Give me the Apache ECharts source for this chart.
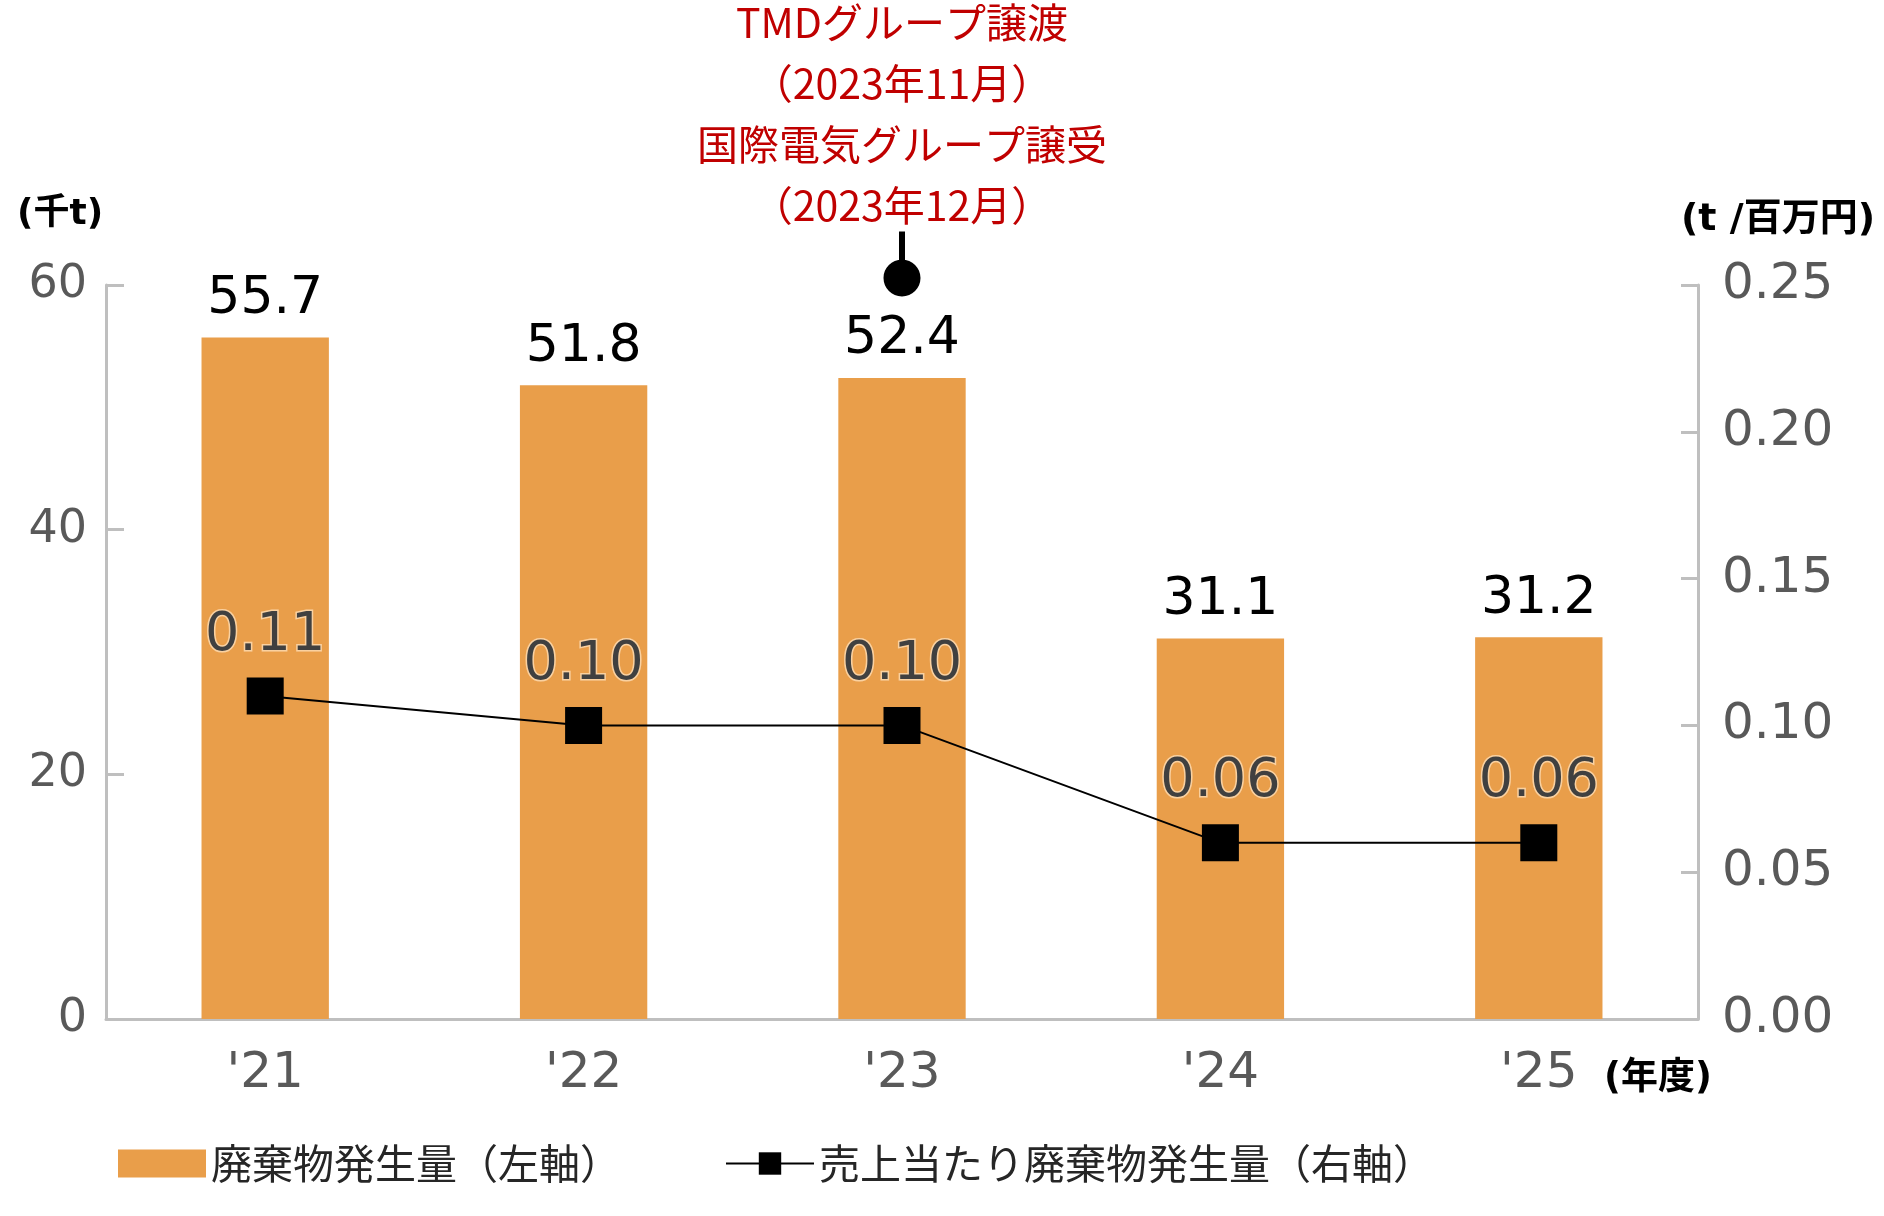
<!DOCTYPE html>
<html>
<head>
<meta charset="utf-8">
<script src="https://cdn.jsdelivr.net/npm/echarts@6/dist/echarts.min.js"></script>
<style>
  html, body { margin: 0; padding: 0; background: #fff; }
  #chart { width: 1884px; height: 1216px; }
</style>
</head>
<body>
<div id="chart"></div>
<script>
// 年度
var categories = ["'21", "'22", "'23", "'24", "'25"];
// 廃棄物発生量（千t）
var wasteAmount = [55.7, 51.8, 52.4, 31.1, 31.2];
// 売上当たり廃棄物発生量（t/百万円）
var wastePerSales = [0.11, 0.10, 0.10, 0.06, 0.06];
// 左軸・右軸の目盛
var leftTicks = [0, 20, 40, 60];
var rightTicks = [0, 0.05, 0.10, 0.15, 0.20, 0.25];
// 注記（'23年度）
var noteCategory = "'23";
var noteLines = ['TMDグループ譲渡', '（2023年11月）', '国際電気グループ譲受', '（2023年12月）'];

var seriesNames = ['廃棄物発生量（左軸）', '売上当たり廃棄物発生量（右軸）'];

var numFont = "'DejaVu Sans', 'Noto Sans CJK JP', sans-serif";
var jpFont = "'Noto Sans CJK JP', sans-serif";
var axisGray = '#bfbfbf';

// ピン（棒＋丸）
var pinPath = 'path://M15.5,0 L21.5,0 L21.5,30 L15.5,30 Z ' +
    'M18.5,28 C28.72,28 37,36.28 37,46.5 C37,56.72 28.72,65 18.5,65 ' +
    'C8.28,65 0,56.72 0,46.5 C0,36.28 8.28,28 18.5,28 Z';

var myChart = echarts.init(document.getElementById('chart'));
myChart.setOption({
    animation: false,
    textStyle: { fontFamily: numFont },
    grid: { //グラフ領域
        left: 106,
        right: 186,
        top: 285,
        bottom: 197
    },
    legend: {
        left: 113,
        top: 1138,
        itemWidth: 88,
        itemGap: 104,
        itemHeight: 28,
        textStyle: { fontFamily: jpFont, fontSize: 41, color: '#262626' },
        data: [
            { name: seriesNames[0], icon: 'rect' },
            { name: seriesNames[1] }
        ]
    },
    xAxis: {
        type: 'category',
        data: categories,
        axisLine: { lineStyle: { color: axisGray, width: 3 } },
        axisTick: { inside: true, length: 17, lineStyle: { color: axisGray, width: 1.5 } },
        axisLabel: { color: '#595959', fontSize: 50, margin: 30 }
    },
    yAxis: [{
        type: 'value',
        min: leftTicks[0],
        max: leftTicks[leftTicks.length - 1],
        interval: leftTicks[1] - leftTicks[0],
        axisLine: { show: true, lineStyle: { color: axisGray, width: 3 } },
        axisTick: { show: true, inside: true, length: 18, lineStyle: { color: axisGray, width: 3 } },
        axisLabel: { color: '#595959', fontSize: 46, margin: 19 },
        splitLine: { show: false }
    }, {
        type: 'value',
        min: rightTicks[0],
        max: rightTicks[rightTicks.length - 1],
        interval: 0.05,
        axisLine: { show: true, lineStyle: { color: axisGray, width: 3 } },
        axisTick: { show: true, inside: true, length: 17, lineStyle: { color: axisGray, width: 3 } },
        axisLabel: {
            color: '#595959', fontSize: 50, margin: 24,
            formatter: function (v) { return v.toFixed(2); }
        },
        splitLine: { show: false }
    }],
    graphic: [
        { type: 'text', left: 17, top: 197, style: { text: '(千t)', fontFamily: numFont, fontSize: 36, fontWeight: 'bold', fill: '#000' } },
        { type: 'text', left: 1681, top: 201, style: { text: '(t /百万円)', fontFamily: numFont, fontSize: 38, fontWeight: 'bold', fill: '#000' } },
        { type: 'text', left: 1604, top: 1061, style: { text: '(年度)', fontFamily: numFont, fontSize: 37, fontWeight: 'bold', fill: '#000' } }
    ],
    series: [{
        name: seriesNames[0],
        type: 'bar',
        yAxisIndex: 0,
        data: wasteAmount,
        barWidth: '40%',
        itemStyle: { color: '#E99E4A' },
        label: {
            show: true,
            position: 'top',
            distance: 12,
            color: '#000',
            fontSize: 52,
            formatter: function (p) { return p.value.toFixed(1); }
        },
        markPoint: { //注記のピン
            silent: true,
            symbol: pinPath,
            symbolSize: [37, 65],
            symbolOffset: [0, -21],
            itemStyle: { color: '#000' },
            label: {
                show: true,
                position: 'top',
                distance: -4,
                color: '#C00000',
                fontFamily: jpFont,
                fontSize: 41,
                lineHeight: 61,
                align: 'center',
                formatter: function () { return noteLines.join('\n'); }
            },
            data: [{ coord: [noteCategory, leftTicks[leftTicks.length - 1]] }]
        }
    }, {
        name: seriesNames[1],
        type: 'line',
        yAxisIndex: 1,
        data: wastePerSales,
        symbol: 'rect',
        symbolSize: 37,
        z: 5,
        lineStyle: { color: '#000', width: 2 },
        itemStyle: { color: '#000' },
        label: {
            show: true,
            position: 'top',
            distance: 15,
            color: '#404040',
            fontSize: 54,
            textBorderColor: 'rgba(255,225,190,0.75)',
            textBorderWidth: 3,
            formatter: function (p) { return p.value.toFixed(2); }
        }
    }]
});
</script>
</body>
</html>
